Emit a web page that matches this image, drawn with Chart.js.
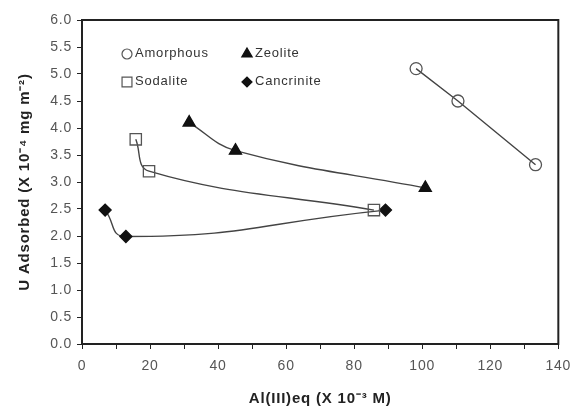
<!DOCTYPE html>
<html>
<head>
<meta charset="utf-8">
<script src="https://cdn.jsdelivr.net/npm/chart.js@4"></script>
<style>
  html, body { margin: 0; padding: 0; background: #fff; }
  #wrap { width: 579px; height: 408px; }
</style>
</head>
<body>
<div id="wrap"><canvas id="chart"></canvas></div>
<script>
// --- data ---
const amorphousX = [98.2, 110.5, 133.3];
const amorphousY = [5.10, 4.50, 3.32];
const zeoliteX = [31.5, 45.1, 100.9];
const zeoliteY = [4.10, 3.58, 2.89];
const sodaliteX = [15.8, 19.7, 85.8];
const sodaliteY = [3.79, 3.20, 2.48];
const cancriniteX = [6.8, 12.9, 89.2];
const cancriniteY = [2.48, 1.99, 2.48];

const xMin = 0, xMax = 140, xMajor = 20;
const yMin = 0, yMax = 6, yMajor = 0.5;

function pts(xs, ys) {
    return xs.map((x, i) => ({ x: x, y: ys[i] }));
}

const ink = '#222';
const lineCol = '#444';
const font = 'Liberation Sans, Arial, sans-serif';

// the original lettering is a bit spaced out
const spacing = {
    id: 'spacing',
    beforeDraw(chart) {
        chart.ctx.letterSpacing = '0.8px';
    }
};

// Legend drawn inside the plot, 2 x 2 like the original
const insideLegend = {
    id: 'insideLegend',
    afterDatasetsDraw(chart) {
        const ctx = chart.ctx;
        const a = chart.chartArea;
        const cols = [a.left + 45, a.left + 165];
        const rows = [a.top + 34, a.top + 62];
        chart.data.datasets.forEach((ds, i) => {
            const x = cols[i % 2];
            const y = rows[Math.floor(i / 2)];
            ctx.save();
            ctx.fillStyle = ds.pointBackgroundColor;
            ctx.strokeStyle = ds.pointBorderColor;
            ctx.lineWidth = 1.2;
            Chart.helpers.drawPoint(ctx, {
                pointStyle: ds.pointStyle,
                radius: ds.pointRadius - 1,
                rotation: 0,
                borderWidth: 1.2
            }, x, y);
            ctx.fillStyle = '#333';
            ctx.font = '13px ' + font;
            ctx.textBaseline = 'middle';
            ctx.fillText(ds.label, x + 8, y - 1);
            ctx.restore();
        });
    }
};

// box frame round the plot area
const frame = {
    id: 'frame',
    afterDraw(chart) {
        const ctx = chart.ctx;
        const a = chart.chartArea;
        ctx.save();
        ctx.strokeStyle = ink;
        ctx.lineWidth = 2;
        ctx.strokeRect(a.left, a.top, a.right - a.left, a.bottom - a.top);
        ctx.restore();
    }
};

function series(label, xs, ys, style, filled, radius, tension) {
    return {
        label: label,
        data: pts(xs, ys),
        showLine: true,
        borderColor: lineCol,
        borderWidth: 1.4,
        tension: tension,
        pointStyle: style,
        pointRadius: radius,
        pointBorderWidth: 1.3,
        pointBackgroundColor: filled ? '#111' : 'rgba(255,255,255,0)',
        pointBorderColor: filled ? '#111' : '#555'
    };
}

new Chart(document.getElementById('chart'), {
    type: 'scatter',
    data: {
        datasets: [
            series('Amorphous', amorphousX, amorphousY, 'circle', false, 6, 0),
            series('Zeolite', zeoliteX, zeoliteY, 'triangle', true, 7, 0.4),
            series('Sodalite', sodaliteX, sodaliteY, 'rect', false, 8, 0.4),
            series('Cancrinite', cancriniteX, cancriniteY, 'rectRot', true, 6, 0.5)
        ]
    },
    options: {
        responsive: true,
        maintainAspectRatio: false,
        animation: false,
        layout: { padding: { top: 20, right: 20, left: 0, bottom: 0 } },
        plugins: {
            legend: { display: false },
            tooltip: { enabled: false }
        },
        scales: {
            x: {
                type: 'linear',
                min: xMin,
                max: xMax,
                afterFit: s => { s.height = 64; },
                border: { color: ink, width: 2 },
                grid: { drawOnChartArea: false, color: ink, tickLength: 5, tickWidth: 1 },
                ticks: {
                    stepSize: xMajor / 2,
                    color: '#555',
                    padding: 9,
                    font: { family: font, size: 14 },
                    maxRotation: 0,
                    callback: v => (v % xMajor === 0 ? String(v) : '')
                },
                title: {
                    display: true,
                    text: 'Al(III)eq (X 10\u207B\u00B3 M)',
                    color: '#222',
                    font: { family: font, size: 15, weight: 'bold' },
                    padding: { top: 0, bottom: 0 },
                    align: 'center'
                }
            },
            y: {
                type: 'linear',
                min: yMin,
                max: yMax,
                afterFit: s => { s.width = 82; },
                border: { color: ink, width: 2 },
                grid: { drawOnChartArea: false, color: ink, tickLength: 5, tickWidth: 1 },
                ticks: {
                    stepSize: yMajor / 2,
                    color: '#555',
                    padding: 5,
                    font: { family: font, size: 14 },
                    callback: v => (Math.abs(v / yMajor - Math.round(v / yMajor)) < 1e-6 ? v.toFixed(1) : '')
                },
                title: {
                    display: true,
                    text: 'U Adsorbed (X 10\u207B\u2074 mg m\u207B\u00B2)',
                    color: '#222',
                    font: { family: font, size: 15, weight: 'bold' },
                    padding: { top: 16, bottom: 0 }
                }
            }
        }
    },
    plugins: [spacing, insideLegend, frame]
});
</script>
</body>
</html>
